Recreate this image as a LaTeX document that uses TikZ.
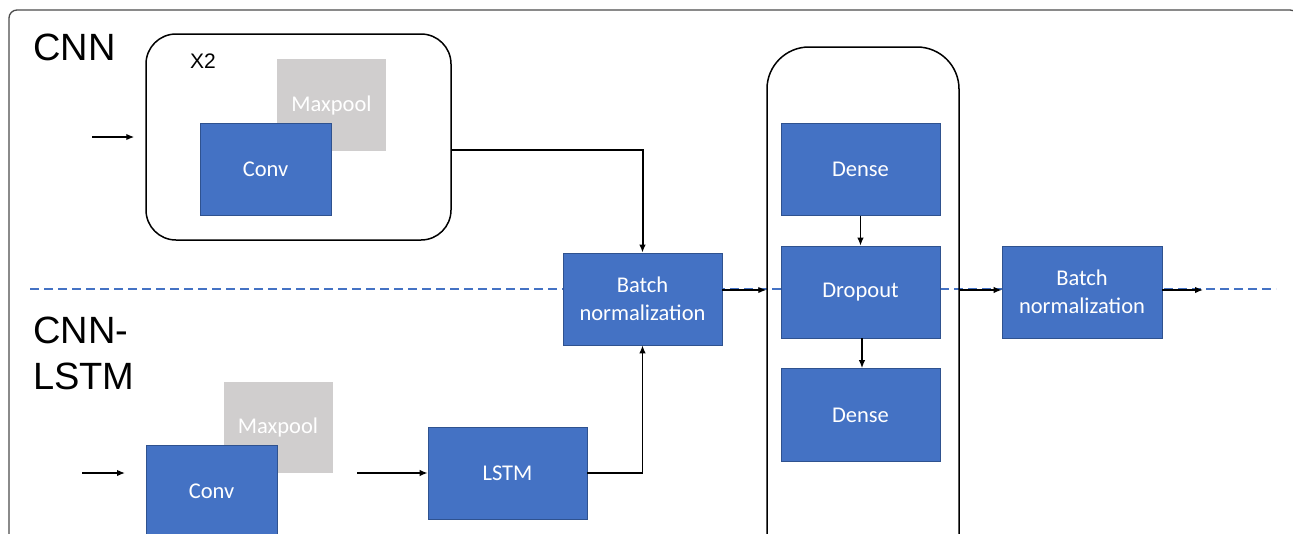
\documentclass[tikz,border=0pt]{standalone}
\usepackage{fontspec}
\setmainfont{Carlito}
\newfontfamily\arialfont{Liberation Sans}
\usetikzlibrary{arrows.meta}
\definecolor{blueL}{HTML}{4472C4}
\definecolor{blueB}{HTML}{2F528F}
\definecolor{poolgray}{HTML}{D0CECE}
\tikzset{
  layerbox/.style={fill=blueL, draw=blueB, line width=0.7pt, text=white,
    font=\fontsize{22.5}{28}\selectfont, align=center, inner sep=0pt,
    minimum width=159pt, minimum height=92pt},
  poolbox/.style={fill=poolgray, draw=none, text=white,
    font=\fontsize{22.5}{28}\selectfont, inner sep=0pt,
    minimum width=109pt, minimum height=92pt},
  groupbox/.style={draw=black, line width=1.5pt, inner sep=0pt},
  arr/.style={draw=black, line width=1.4pt, -{Latex[length=8pt,width=6.5pt]}},
  biglabel/.style={font=\arialfont\fontsize{38}{46}\selectfont, inner sep=0pt, anchor=base west},
}
\begin{document}
\begin{tikzpicture}[x=1pt,y=-1pt]
\useasboundingbox (0,0) rectangle (1293,533);
% outer frame
\draw[gray!60!black, line width=1.3pt, rounded corners=8pt] (9,10) rectangle (1298,620);
% dashed separator
\coordinate (dsA) at (30,289);
\coordinate (dsB) at (1276,289);
\draw[blueL, line width=2pt, dash pattern=on 9pt off 5pt] (dsA) -- (dsB);
% labels
\node[biglabel] (lcnn) at (33,60) {CNN};
\node[biglabel] (lcnn2) at (33,343) {CNN-};
\node[biglabel] (llstm) at (33,389) {LSTM};
% CNN branch
\node[groupbox, rounded corners=30pt, minimum width=305pt, minimum height=206pt] (cnnbox) at (298.5,137) {};
\node[font=\arialfont\fontsize{21}{24}\selectfont, inner sep=0pt, anchor=base west] (x2) at (190,68) {X2};
\node[poolbox] (pool1) at (331.5,105) {Maxpool};
\node[layerbox, minimum width=131pt] (conv1) at (265.5,169) {Conv};
% batch norm 1
\node[layerbox] (bn1) at (642.5,299) {Batch\\normalization};
% dense group
\node[groupbox, rounded corners=42pt, minimum width=192pt, minimum height=540pt] (cont) at (863,317) {};
\node[layerbox] (dense1) at (860.5,169.5) {Dense};
\node[layerbox] (drop) at (860.5,292) {Dropout};
\node[layerbox, minimum height=93pt] (dense2) at (860.5,415) {Dense};
% batch norm 2
\node[layerbox, minimum width=160pt] (bn2) at (1082,292) {Batch\\normalization};
% CNN-LSTM branch
\node[poolbox, minimum height=91pt] (pool2) at (278,427.5) {Maxpool};
\node[layerbox, minimum width=131pt] (conv2) at (211.5,491) {Conv};
\node[layerbox] (lstm) at (507.5,473) {LSTM};
% connectors
\coordinate (in1) at (92,137);
\draw[arr] (in1) -- ([xshift=-11pt]cnnbox.west);
\draw[arr, line width=2pt] ([yshift=-13pt]cnnbox.east) -| (bn1.north);
\draw[arr] (lstm.east) -| (bn1.south);
\coordinate (m1) at ([yshift=9pt]bn1.east);
\draw[arr] (m1) -- (m1 -| cont.west);
\coordinate (m2) at ([yshift=2pt]bn2.west);
\draw[arr] (m2 -| cont.east) -- (m2);
\coordinate (out) at (1203,290);
\draw[arr] ([yshift=2pt]bn2.east) -- (out);
\draw[arr] (dense1.south) -- (drop.north);
\draw[arr] ([xshift=1.5pt]drop.south) -- ([xshift=1.5pt]dense2.north);
\coordinate (in2a) at (82,473);
\coordinate (in2b) at (125,473);
\draw[arr] (in2a) -- (in2b);
\coordinate (c2out) at (357,473);
\draw[arr] (c2out) -- (lstm.west);
\end{tikzpicture}
\end{document}
